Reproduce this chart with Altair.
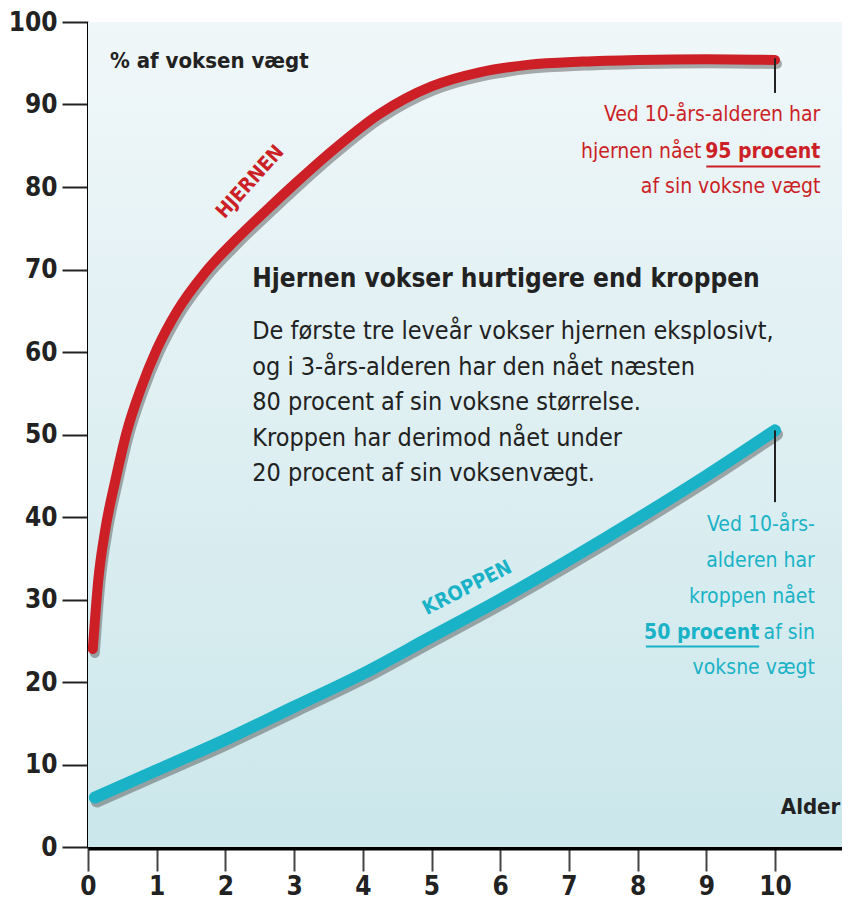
import altair as alt
import pandas as pd

# ---- data ----
brain_age = [0.07, 0.15, 0.25, 0.4, 0.56, 0.78, 1.0, 1.3, 1.7, 2.15, 2.65, 3.0, 3.5, 4.25, 5.0, 5.7, 6.4, 7.2, 8.0, 9.0, 10.0]
brain_pct = [24, 32.4, 38.4, 44.5, 50.2, 55.8, 60.3, 65, 69.6, 73.6, 77.6, 80.3, 84.0, 88.9, 92.2, 93.9, 94.8, 95.2, 95.4, 95.5, 95.4]
body_age = [0.1, 1, 2, 3, 4, 5, 6, 7, 8, 9, 10]
body_pct = [6, 9.3, 13, 17, 21, 25.5, 30, 34.8, 39.8, 45, 50.5]
x_ticks = list(range(0, 11))
y_ticks = list(range(0, 101, 10))

brain = pd.DataFrame({"age": brain_age, "pct": brain_pct})
body = pd.DataFrame({"age": body_age, "pct": body_pct})

W, H = 754, 825
F = "Liberation Sans Narrow, DejaVu Sans Condensed, Liberation Sans, sans-serif"
RED = "#cc1f26"
BLUE = "#1ab2c6"
DARK = "#222222"

xs = alt.Scale(domain=[0, 10.975], nice=False, zero=False)
ys = alt.Scale(domain=[0, 100], nice=False, zero=False)

x_axis = alt.Axis(values=x_ticks, format="d", title=None, grid=False,
                  domainColor="black", domainWidth=6, tickColor="#444", tickWidth=2,
                  tickSize=24, labelFont=F, labelFontSize=26, labelFontWeight="bold",
                  labelColor=DARK, labelPadding=2, labelFlush=False)
y_axis = alt.Axis(values=y_ticks, format="d", title=None, grid=False,
                  domainColor="black", domainWidth=3, tickColor="#222", tickWidth=2,
                  tickSize=26, labelFont=F, labelFontSize=26, labelFontWeight="bold",
                  labelColor=DARK, labelPadding=5, labelFlush=False)

bg = alt.Chart(pd.DataFrame({"a": [0]})).mark_rect(
    color=alt.LinearGradient(gradient="linear", x1=0, x2=0, y1=0, y2=1,
                             stops=[alt.GradientStop(color="#f0f7f9", offset=0),
                                    alt.GradientStop(color="#deeff2", offset=0.5),
                                    alt.GradientStop(color="#cbe7eb", offset=1)])
).encode(x=alt.value(0), x2=alt.value(W), y=alt.value(0), y2=alt.value(H))


def curve(df, color, width):
    enc = dict(x=alt.X("age:Q", scale=xs, axis=x_axis), y=alt.Y("pct:Q", scale=ys, axis=y_axis))
    shadow = alt.Chart(df).mark_line(color="#4a4a4a", opacity=0.45, strokeWidth=width,
                                     xOffset=2, yOffset=4, interpolate="monotone",
                                     strokeCap="round").encode(**enc)
    line = alt.Chart(df).mark_line(color=color, strokeWidth=width, interpolate="monotone",
                                   strokeCap="round").encode(**enc)
    return [shadow, line]


def txt(x, y, s, color=DARK, size=22, weight="normal", align="left", angle=0):
    return alt.Chart(pd.DataFrame({"a": [0]})).mark_text(
        text=s, color=color, fontSize=size, fontWeight=weight, font=F,
        align=align, baseline="middle", angle=angle
    ).encode(x=alt.X(datum=x, scale=xs, axis=x_axis), y=alt.Y(datum=y, scale=ys, axis=y_axis))


def rule(x1, y1, x2, y2, color="#222", w=2):
    return alt.Chart(pd.DataFrame({"a": [0]})).mark_rule(color=color, strokeWidth=w).encode(
        x=alt.X(datum=x1, scale=xs, axis=x_axis), y=alt.Y(datum=y1, scale=ys, axis=y_axis),
        x2=alt.datum(x2), y2=alt.datum(y2))


layers = [bg] + curve(body, BLUE, 12) + curve(brain, RED, 10)

# pointer lines
layers += [rule(10, 95.6, 10, 91.4), rule(10, 50.5, 10, 41.8)]

# labels
layers += [
    txt(0.32, 95.3, "% af voksen vægt", size=22, weight="bold"),
    txt(10.95, 4.8, "Alder", size=22, weight="bold", align="right"),
    txt(2.36, 80.6, "HJERNEN", color=RED, size=20, weight="bold", align="center", angle=312),
    txt(5.52, 31.4, "KROPPEN", color=BLUE, size=20, weight="bold", align="center", angle=333),
    txt(2.39, 68.9, "Hjernen vokser hurtigere end kroppen", size=26, weight="bold"),
]
body_lines = ["De første tre leveår vokser hjernen eksplosivt,",
              "og i 3-års-alderen har den nået næsten",
              "80 procent af sin voksne størrelse.",
              "Kroppen har derimod nået under",
              "20 procent af sin voksenvægt."]
for i, s in enumerate(body_lines):
    layers.append(txt(2.39, (847 - (331 + 35.5 * i)) / 8.25, s, size=25))

# red annotation
layers += [
    txt(10.66, 88.7, "Ved 10-års-alderen har", color=RED, size=21, align="right"),
    txt(8.93, 84.3, "hjernen nået", color=RED, size=21, align="right"),
    txt(10.66, 84.3, "95 procent", color=RED, size=21, weight="bold", align="right"),
    rule(9.0, 82.5, 10.66, 82.5, color=RED, w=2),
    txt(10.66, 80.0, "af sin voksne vægt", color=RED, size=21, align="right"),
]
# blue annotation
layers += [
    txt(10.58, 39.0, "Ved  10-års-", color=BLUE, size=21, align="right"),
    txt(10.58, 34.7, "alderen har", color=BLUE, size=21, align="right"),
    txt(10.58, 30.3, "kroppen nået", color=BLUE, size=21, align="right"),
    txt(9.77, 26.0, "50 procent", color=BLUE, size=21, weight="bold", align="right"),
    txt(10.58, 26.0, "af sin", color=BLUE, size=21, align="right"),
    rule(8.12, 24.3, 9.77, 24.3, color=BLUE, w=2),
    txt(10.58, 21.7, "voksne vægt", color=BLUE, size=21, align="right"),
]

chart = alt.layer(*layers).properties(
    width=W, height=H,
    autosize=alt.AutoSizeParams(type="none"),
    padding={"left": 80, "top": 14, "right": 0, "bottom": 60},
).configure_view(stroke=None)

chart.save("out.html", embed_options={"renderer": "svg", "actions": False})
